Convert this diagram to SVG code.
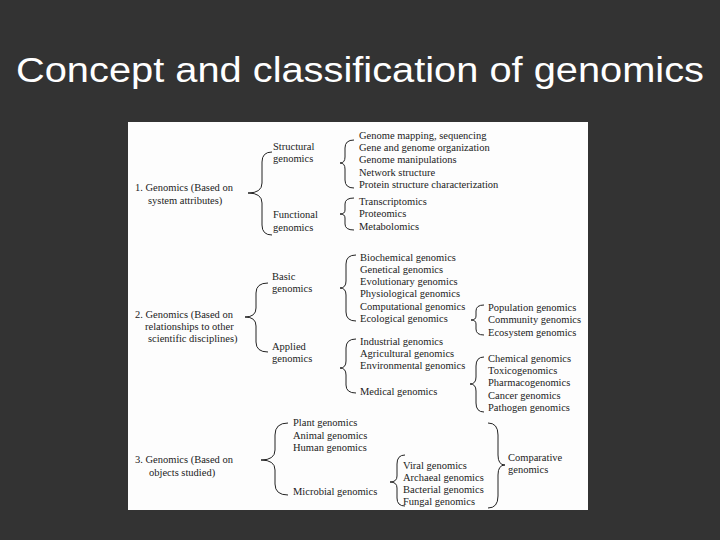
<svg xmlns="http://www.w3.org/2000/svg" width="720" height="540" viewBox="0 0 720 540">
<style>
.t{font-family:"Liberation Serif","Times New Roman",serif;font-size:10.5px;fill:#222}
.b{fill:none;stroke:#222;stroke-width:1}
.title{font-family:"Liberation Sans",Arial,sans-serif;font-size:35px;fill:#fff}
</style>
<rect width="720" height="540" fill="#333"/>
<text class="title" x="16" y="82" textLength="688" lengthAdjust="spacingAndGlyphs">Concept and classification of genomics</text>
<rect x="128" y="122" width="460" height="388" fill="#fdfdfd"/>
<g id="connectors">
<path class="b" d="M272,152 Q262,152 262,162 L262,183 Q262,193 248,193 Q262,193 262,203 L262,225 Q262,235 272,235"/>
<path class="b" d="M354,140 Q345,140 345,148 L345,157 Q345,163 340,163 Q345,163 345,169 L345,180 Q345,188 354,188"/>
<path class="b" d="M354,198 Q345,198 345,204 L345,210 Q345,214 340,214 Q345,214 345,218 L345,224 Q345,230 354,230"/>
<path class="b" d="M268,283 Q256,283 256,293 L256,308 Q256,317 245,317 Q256,317 256,326 L256,342 Q256,352 268,352"/>
<path class="b" d="M356,255 Q346,255 346,264 L346,281 Q346,288 340,288 Q346,288 346,295 L346,312 Q346,321 356,321"/>
<path class="b" d="M484,305 Q476,305 476,311 L476,316 Q476,320 471,320 Q476,320 476,324 L476,329 Q476,335 484,335"/>
<path class="b" d="M356,339 Q346,339 346,348 L346,361 Q346,368 340,368 Q346,368 346,375 L346,385 Q346,393 356,393"/>
<path class="b" d="M484,357 Q476,357 476,366 L476,377 Q476,384 470,384 Q476,384 476,391 L476,403 Q476,412 484,412"/>
<path class="b" d="M288,423 Q275,423 275,435 L275,450 Q275,460 261,460 Q275,460 275,470 L275,484 Q275,495 288,495"/>
<path class="b" d="M405,455 Q397,455 397,464 L397,476 Q397,482 390,482 Q397,482 397,488 L397,498 Q397,506 405,506"/>
<path class="b" d="M488,423 Q498,423 498,435 L498,455 Q498,465 505,465 Q498,465 498,475 L498,496 Q498,508 488,508"/>
</g>
<g id="n1"><text class="t" x="135" y="191">1. Genomics (Based on</text><text class="t" x="148" y="204">system attributes)</text></g>
<g id="n1a"><text class="t" x="273" y="150">Structural</text><text class="t" x="273" y="162">genomics</text></g>
<g id="n1a-items"><text class="t" x="359" y="139">Genome mapping, sequencing</text><text class="t" x="359" y="151">Gene and genome organization</text><text class="t" x="359" y="163">Genome manipulations</text><text class="t" x="359" y="176">Network structure</text><text class="t" x="359" y="188">Protein structure characterization</text></g>
<g id="n1b"><text class="t" x="273" y="218">Functional</text><text class="t" x="273" y="231">genomics</text></g>
<g id="n1b-items"><text class="t" x="359" y="205">Transcriptomics</text><text class="t" x="359" y="217">Proteomics</text><text class="t" x="359" y="230">Metabolomics</text></g>
<g id="n2"><text class="t" x="135" y="318">2. Genomics (Based on</text><text class="t" x="145" y="330">relationships to other</text><text class="t" x="148" y="342">scientific disciplines)</text></g>
<g id="n2a"><text class="t" x="272" y="280">Basic</text><text class="t" x="272" y="292">genomics</text></g>
<g id="n2a-items"><text class="t" x="360" y="261">Biochemical genomics</text><text class="t" x="360" y="273">Genetical genomics</text><text class="t" x="360" y="285">Evolutionary genomics</text><text class="t" x="360" y="297">Physiological genomics</text><text class="t" x="360" y="310">Computational genomics</text><text class="t" x="360" y="322">Ecological genomics</text></g>
<g id="n2eco"><text class="t" x="488" y="311">Population genomics</text><text class="t" x="488" y="323">Community genomics</text><text class="t" x="488" y="336">Ecosystem genomics</text></g>
<g id="n2b"><text class="t" x="272" y="350">Applied</text><text class="t" x="272" y="362">genomics</text></g>
<g id="n2b-items"><text class="t" x="360" y="345">Industrial genomics</text><text class="t" x="360" y="357">Agricultural genomics</text><text class="t" x="360" y="369">Environmental genomics</text><text class="t" x="360" y="395">Medical genomics</text></g>
<g id="n2med"><text class="t" x="488" y="362">Chemical genomics</text><text class="t" x="488" y="374">Toxicogenomics</text><text class="t" x="488" y="386">Pharmacogenomics</text><text class="t" x="488" y="399">Cancer genomics</text><text class="t" x="488" y="411">Pathogen genomics</text></g>
<g id="n3"><text class="t" x="135" y="463">3. Genomics (Based on</text><text class="t" x="149" y="476">objects studied)</text></g>
<g id="n3-items"><text class="t" x="293" y="426">Plant genomics</text><text class="t" x="293" y="439">Animal genomics</text><text class="t" x="293" y="451">Human genomics</text><text class="t" x="293" y="495">Microbial genomics</text></g>
<g id="n3mic"><text class="t" x="403" y="469">Viral genomics</text><text class="t" x="403" y="481">Archaeal genomics</text><text class="t" x="403" y="493">Bacterial genomics</text><text class="t" x="403" y="505">Fungal genomics</text></g>
<g id="n3comp"><text class="t" x="508" y="461">Comparative</text><text class="t" x="508" y="473">genomics</text></g>
</svg>
